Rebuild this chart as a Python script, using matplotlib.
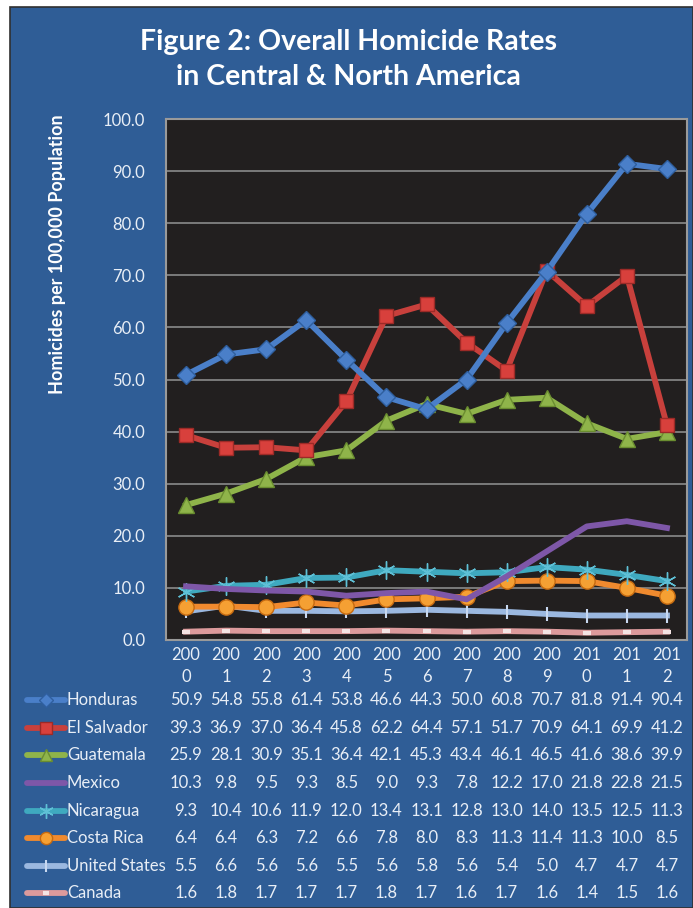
import matplotlib.pyplot as plt
from matplotlib.patches import Rectangle
from matplotlib.lines import Line2D
from matplotlib.transforms import blended_transform_factory

# homicide rates per 100,000, 2000-2012
years = [str(y) for y in range(2000, 2013)]
countries = ['Honduras', 'El Salvador', 'Guatemala', 'Mexico',
             'Nicaragua', 'Costa Rica', 'United States', 'Canada']
honduras = [50.9, 54.8, 55.8, 61.4, 53.8, 46.6, 44.3, 50.0, 60.8, 70.7, 81.8, 91.4, 90.4]
el_salvador = [39.3, 36.9, 37.0, 36.4, 45.8, 62.2, 64.4, 57.1, 51.7, 70.9, 64.1, 69.9, 41.2]
guatemala = [25.9, 28.1, 30.9, 35.1, 36.4, 42.1, 45.3, 43.4, 46.1, 46.5, 41.6, 38.6, 39.9]
mexico = [10.3, 9.8, 9.5, 9.3, 8.5, 9.0, 9.3, 7.8, 12.2, 17.0, 21.8, 22.8, 21.5]
nicaragua = [9.3, 10.4, 10.6, 11.9, 12.0, 13.4, 13.1, 12.8, 13.0, 14.0, 13.5, 12.5, 11.3]
costa_rica = [6.4, 6.4, 6.3, 7.2, 6.6, 7.8, 8.0, 8.3, 11.3, 11.4, 11.3, 10.0, 8.5]
united_states = [5.5, 6.6, 5.6, 5.6, 5.5, 5.6, 5.8, 5.6, 5.4, 5.0, 4.7, 4.7, 4.7]
canada = [1.6, 1.8, 1.7, 1.7, 1.7, 1.8, 1.7, 1.6, 1.7, 1.6, 1.4, 1.5, 1.6]
series = [honduras, el_salvador, guatemala, mexico, nicaragua, costa_rica, united_states, canada]

colors = ['#4a7fc9', '#c8403c', '#8fb44a', '#7e57a8', '#3fa9bf', '#f08a2e', '#9bb8e0', '#dc9a9c']
styles = [
    dict(marker='D', ms=9, mfc='#4a7fc9', mec='#2f5f9f'),
    dict(marker='s', ms=10, mfc='#d8403c', mec='#9c2a27'),
    dict(marker='^', ms=11, mfc='#8fb44a', mec='#6a8d30'),
    dict(marker='None'),
    dict(marker=(6, 2, 0), ms=13, mfc='#5fc0d6', mec='#5fc0d6', mew=1),
    dict(marker='o', ms=11, mfc='#f5a033', mec='#c66a10'),
    dict(marker='|', ms=10, mfc='#c8d8f0', mec='#c8d8f0', mew=1.5),
    dict(marker='_', ms=6, mfc='white', mec='#f4e4e4', mew=3),
]

bg = '#2f5d96'
fig = plt.figure(figsize=(6.93, 9.08), dpi=100)
fig.patch.set_facecolor('white')
W, H = 693, 908
fig.patches.append(Rectangle((10 / W, 0), 1 - 10 / W, 1 - 7 / H, transform=fig.transFigure,
                             facecolor=bg, edgecolor='#303030', lw=1.2, zorder=-10))

plt.rcParams['font.family'] = ['Lato', 'DejaVu Sans']

ax = fig.add_axes([166 / W, 1 - 640 / H, 521 / W, 521 / H])
ax.set_facecolor('#221f1f')
for i, vals in enumerate(series):
    ax.plot(range(len(years)), vals, color=colors[i], lw=4.2, zorder=3 + (8 - i) * 0.1,
            **styles[i])

ax.set_xlim(-0.5, len(years) - 0.5)
ax.set_ylim(0, 100)
ax.set_yticks(range(0, 101, 10))
ax.set_yticklabels([f'{v:.1f}' for v in range(0, 101, 10)], color='#e8eef6', fontsize=12)
ax.set_xticks([])
ax.tick_params(axis='y', length=0, pad=15)
ax.grid(axis='y', color='#8a8a8a', lw=1.2)
ax.set_axisbelow(True)
for s in ax.spines.values():
    s.set_color('#9a9a9a')
    s.set_linewidth(1.5)

fig.text(348 / W, 1 - 42 / H, 'Figure 2: Overall Homicide Rates', ha='center', va='center',
         color='white', fontsize=20.5, fontweight='bold')
fig.text(348 / W, 1 - 77 / H, 'in Central & North America', ha='center', va='center',
         color='white', fontsize=20.5, fontweight='bold')
fig.text(57 / W, 1 - 254 / H, 'Homicides per 100,000 Population', rotation=90,
         ha='center', va='center', color='white', fontsize=13, fontweight='bold')

# data table under the plot
tr = blended_transform_factory(ax.transData, fig.transFigure)
txt = '#e8eef6'
fs = 12
for j, y in enumerate(years):
    ax.text(j, 1 - 655 / H, y[:3], transform=tr, ha='center', va='center', color=txt, fontsize=fs)
    ax.text(j, 1 - 677 / H, y[3], transform=tr, ha='center', va='center', color=txt, fontsize=fs)

row_y = [700, 728, 755, 783, 811, 838, 866, 893]
for i, name in enumerate(countries):
    yf = 1 - row_y[i] / H
    st = dict(styles[i])
    if 'ms' in st:
        st['ms'] = st['ms'] * 0.8
    fig.add_artist(Line2D([27 / W, 65 / W], [yf, yf], color=colors[i], lw=4.2,
                          transform=fig.transFigure, solid_capstyle='round'))
    fig.add_artist(Line2D([46 / W], [yf], color=colors[i], lw=0,
                          transform=fig.transFigure, **st))
    fig.text(67 / W, yf, name, ha='left', va='center', color=txt, fontsize=fs)
    for j, v in enumerate(series[i]):
        ax.text(j, yf, f'{v:.1f}', transform=tr, ha='center', va='center', color=txt, fontsize=fs)

fig.savefig('out.png', dpi=100, facecolor=fig.get_facecolor())
